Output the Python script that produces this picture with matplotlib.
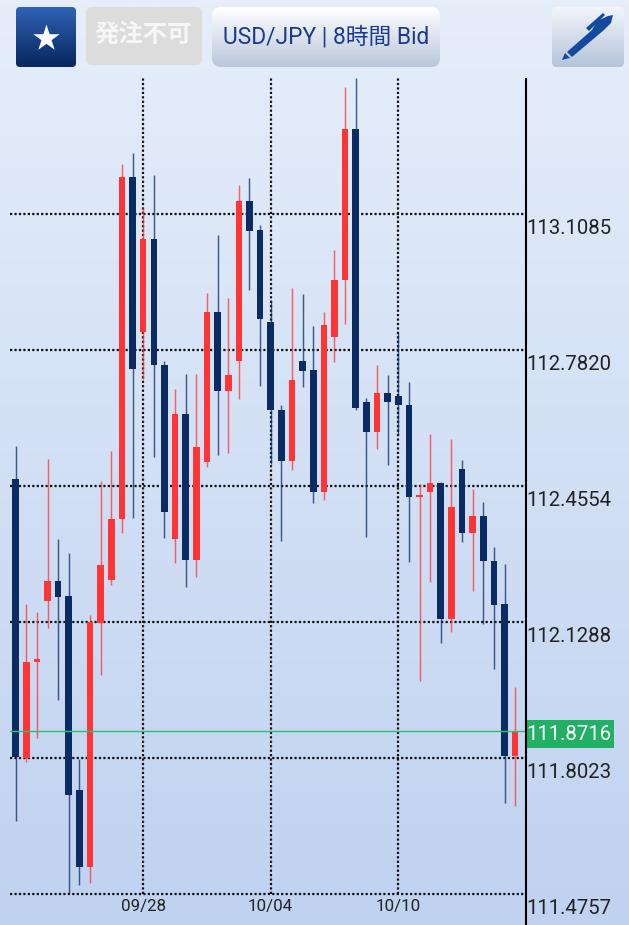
import numpy as np
import matplotlib
matplotlib.use("Agg")
import matplotlib.pyplot as plt
from matplotlib.colors import LinearSegmentedColormap
from matplotlib.patches import FancyBboxPatch, Polygon, Rectangle

plt.rcParams['font.family'] = ['Roboto', 'Noto Sans CJK JP', 'DejaVu Sans']

# data: one value per 8h candle
opens = [112.472, 111.802, 112.032, 112.179, 112.227, 112.191, 111.726, 111.541,
         112.127, 112.230, 112.376, 113.198, 112.825, 113.048, 112.747, 112.329,
         112.628, 112.278, 112.514, 112.873, 112.684, 112.756, 113.141, 113.070,
         112.850, 112.638, 112.516, 112.756, 112.734, 112.440, 112.813, 112.950,
         113.314, 112.657, 112.586, 112.679, 112.672, 112.650, 112.429, 112.441,
         112.463, 112.137, 112.497, 112.343, 112.384, 112.275, 112.172, 111.807]
highs = [112.552, 112.172, 112.153, 112.520, 112.328, 112.295, 111.800, 112.146,
         112.468, 112.540, 113.228, 113.255, 113.123, 113.202, 112.756, 112.688,
         112.724, 112.725, 112.919, 113.058, 112.907, 113.178, 113.195, 113.082,
         112.902, 112.649, 112.931, 112.917, 112.840, 112.873, 113.023, 113.414,
         113.435, 112.667, 112.747, 112.722, 112.823, 112.705, 112.460, 112.580,
         112.466, 112.568, 112.518, 112.448, 112.418, 112.308, 112.267, 111.972]
lows = [111.652, 111.793, 111.850, 112.115, 111.942, 111.476, 111.498, 111.502,
        112.002, 112.218, 112.343, 112.378, 112.713, 112.525, 112.331, 112.271,
        112.213, 112.237, 112.501, 112.531, 112.535, 112.664, 112.927, 112.696,
        112.509, 112.323, 112.493, 112.693, 112.415, 112.422, 112.753, 112.845,
        112.638, 112.332, 112.544, 112.506, 112.578, 112.273, 111.987, 112.225,
        112.079, 112.105, 112.321, 112.203, 112.125, 112.016, 111.694, 111.686]
closes = [111.804, 112.034, 112.039, 112.227, 112.190, 111.713, 111.541, 112.130,
          112.266, 112.377, 113.198, 112.737, 113.048, 112.745, 112.393, 112.628,
          112.278, 112.550, 112.873, 112.684, 112.721, 113.141, 113.069, 112.857,
          112.637, 112.516, 112.711, 112.732, 112.440, 112.842, 112.951, 113.314,
          112.643, 112.586, 112.679, 112.657, 112.649, 112.430, 112.434, 112.463,
          112.137, 112.405, 112.343, 112.384, 112.275, 112.170, 111.807, 111.867]

grid_prices = [113.1085, 112.7820, 112.4554, 112.1288, 111.8023, 111.4757]
grid_labels = ["113.1085", "112.7820", "112.4554", "112.1288", "111.8023", "111.4757"]
date_idx = [12, 24, 36]
date_labels = ["09/28", "10/04", "10/10"]
last_price = 111.868
last_label = "111.8716"

navy = "#0A2C63"
red = "#FF3434"
W, H = 629, 925

fig = plt.figure(figsize=(W / 100, H / 100), dpi=100)

# page background + buttons, in pixel coords
bg = fig.add_axes([0, 0, 1, 1], zorder=0)
bg.set_xlim(0, W)
bg.set_ylim(H, 0)
bg.axis("off")
page = LinearSegmentedColormap.from_list("page", ["#E6EEFA", "#BFD2F0"])
bg.imshow(np.linspace(0, 1, 256).reshape(-1, 1), cmap=page, extent=(0, W, H, 0), aspect="auto")
bg.set_xlim(0, W)
bg.set_ylim(H, 0)


def button(x0, y0, x1, y1, top, bottom, rad=6):
    box = FancyBboxPatch((x0, y0), x1 - x0, y1 - y0, boxstyle=f"round,pad=0,rounding_size={rad}",
                         fc="none", ec="none")
    bg.add_patch(box)
    cm = LinearSegmentedColormap.from_list("b", [top, bottom])
    im = bg.imshow(np.linspace(0, 1, 64).reshape(-1, 1), cmap=cm, extent=(x0, x1, y1, y0), aspect="auto", zorder=2)
    im.set_clip_path(box)


button(16, 7, 76, 67, "#2F62B4", "#082660", rad=4)
button(86, 7, 202, 65, "#DCDCDC", "#DCDCDC")
button(212, 7, 440, 67, "#FFFFFF", "#B9C7DC", rad=9)
button(552, 7, 624, 67, "#F2F5FA", "#B5C4DA", rad=5)
bg.scatter([45.7], [37.5], marker="*", s=400, c="white", linewidths=0, zorder=3)
bg.text(143.5, 35, "発注不可", color="#F6F6F6", fontsize=17.6, ha="center", va="center", fontweight="bold",
        family=["Noto Sans CJK JP", "DejaVu Sans"], zorder=3)
bg.text(326, 37, "USD/JPY | 8時間 Bid", color="#1B3A8E", fontsize=16.4, ha="center", va="center", zorder=3)

# pen icon
pen = "#134A9E"
bg.add_patch(Polygon([[567, 52], [592, 30], [597, 21], [608, 16], [613, 15], [611, 23], [604, 30], [572, 57]],
                     fc=pen, ec="none", zorder=3))
bg.add_patch(Polygon([[586, 28], [603, 13], [605, 15], [589, 31]], fc=pen, ec="none", zorder=3))
bg.add_patch(Polygon([[562, 60], [565, 53], [570, 58]], fc=pen, ec="none", zorder=3))

# chart
ax = fig.add_axes([10 / W, 1 - 894 / H, (525.5 - 10) / W, (894 - 78) / H], zorder=1)
ax.patch.set_alpha(0)
ax.axis("off")
ax.set_xlim(-0.53, 47.97)
ax.set_ylim(111.4757, 113.4353)

dots = (0, (1, 1))
for p in grid_prices:
    ax.plot([-0.53, 47.8], [p, p], color="#111111", lw=1.6, ls=dots, zorder=1, clip_on=False)
for i in date_idx:
    ax.axvline(i, color="#111111", lw=1.6, ls=dots, zorder=1)

ax.axhline(last_price, color="#2FBF71", lw=1.05, zorder=5)

x = np.arange(len(opens))
o = np.array(opens)
c = np.array(closes)
colors = [red if c[i] > o[i] else navy for i in x]
ax.vlines(x, lows, highs, colors=colors, lw=1.05, alpha=0.75, zorder=3)
ax.bar(x, np.abs(c - o), bottom=np.minimum(o, c), width=0.62, color=colors, zorder=4)

# overlay for labels and right rule
fg = fig.add_axes([0, 0, 1, 1], zorder=2)
fg.patch.set_alpha(0)
fg.axis("off")
fg.set_xlim(0, W)
fg.set_ylim(H, 0)
fg.plot([525.5, 525.5], [78, H], color="black", lw=1.5, solid_capstyle="butt")
fg.add_patch(Rectangle((526, 720), 88, 28, fc="#21B065", ec="none"))
fg.text(526, 735, last_label, color="white", fontsize=14.7, va="center", ha="left")
for p, s in zip(grid_prices, grid_labels):
    py = 894 - (p - 111.4757) / (113.4353 - 111.4757) * (894 - 78)
    fg.text(526, py + 14, s, color="#222222", fontsize=14.7, va="center", ha="left")
for i, s in zip(date_idx, date_labels):
    px = 15.6 + i * 10.628
    fg.text(px, 906, s, color="#222222", fontsize=12.2, va="center", ha="center")

fig.savefig("out.png", dpi=100)
